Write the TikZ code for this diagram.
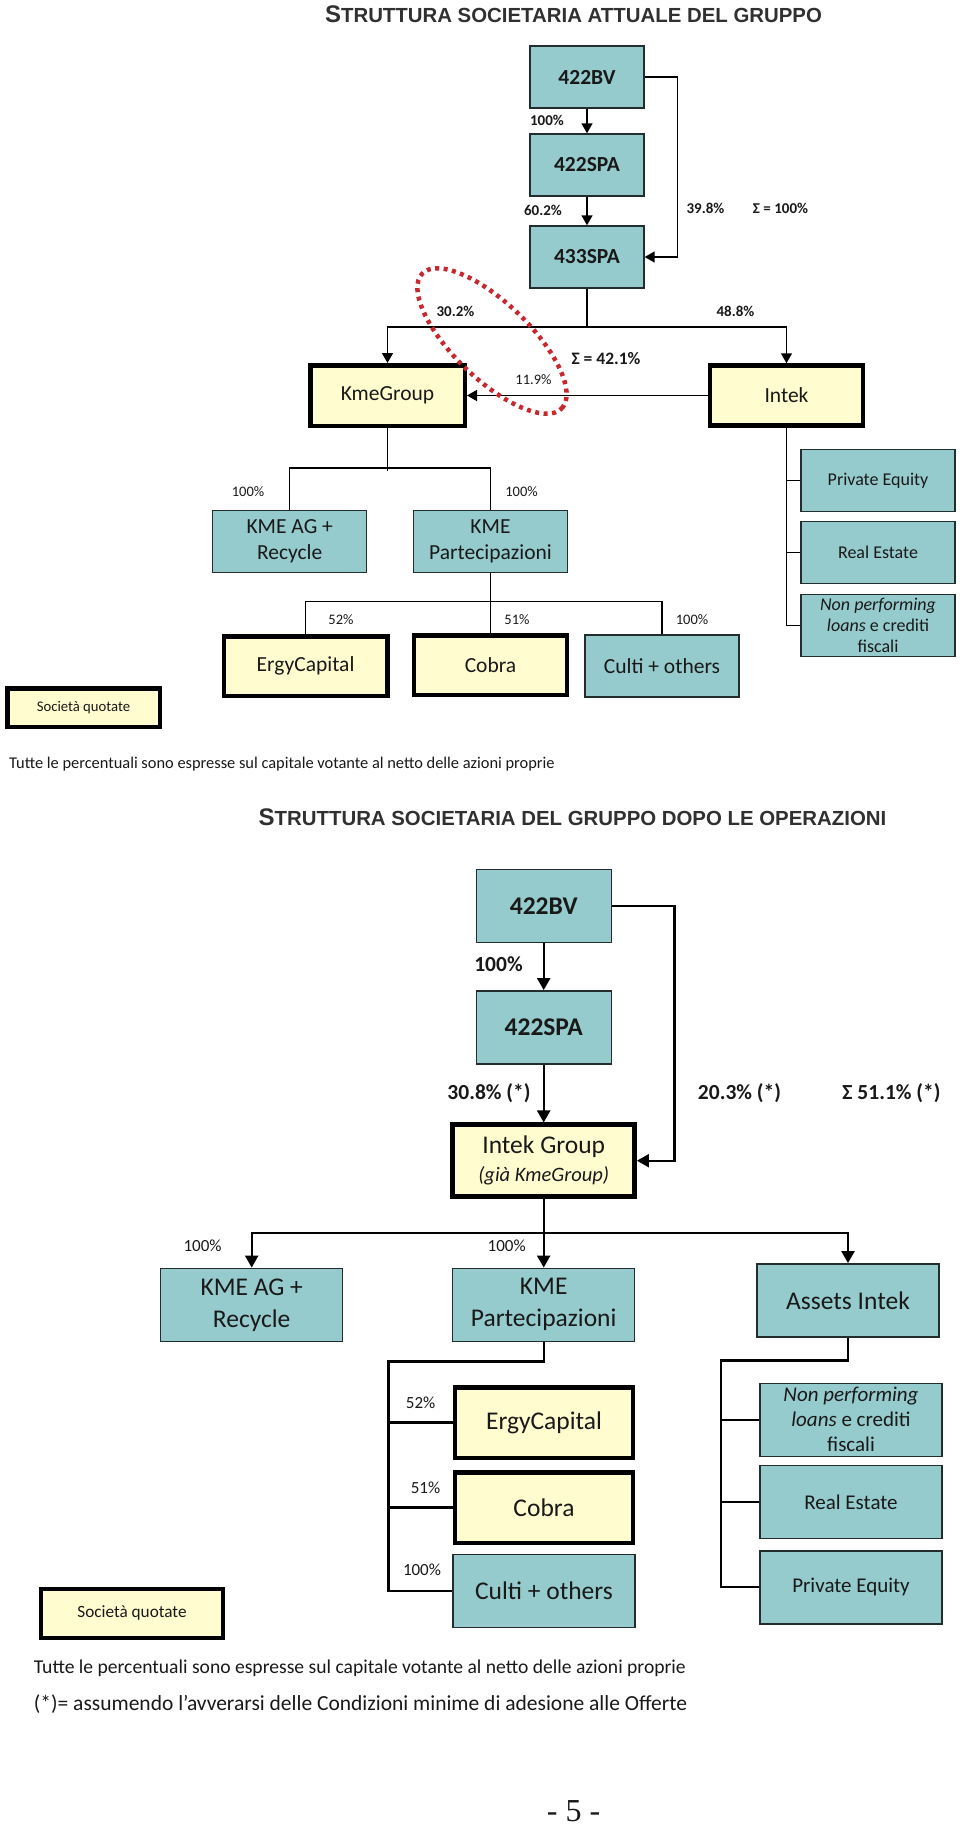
\documentclass[tikz,border=0pt]{standalone}
\usepackage{fontspec}
\setmainfont{Carlito}
\newfontfamily\headfont{Liberation Sans}
\newfontfamily\pagenumfont{Liberation Serif}
\usetikzlibrary{arrows.meta}
\definecolor{tealbox}{RGB}{150, 203, 205}
\definecolor{listedfill}{RGB}{255, 253, 208}
\definecolor{boxline}{RGB}{35, 45, 45}
\definecolor{ink}{RGB}{25, 25, 25}
\definecolor{ringred}{RGB}{200, 40, 45}

\begin{document}
\begin{tikzpicture}[x=1pt, y=-1pt,
    co/.style={draw=boxline, fill=tealbox, line width=1.4pt, align=center, inner sep=0pt, text=ink},
    listed/.style={draw=black, fill=listedfill, line width=4.5pt},
    holdA/.style={co, minimum width=114pt, minimum height=62pt, font=\bfseries\fontsize{21.5}{26}\selectfont},
    holdB/.style={co, minimum width=135pt, minimum height=73pt, font=\bfseries\fontsize{25.5}{30}\selectfont},
    unitA/.style={co, minimum width=154pt, minimum height=62pt, font=\fontsize{21.5}{26}\selectfont},
    unitB/.style={co, minimum width=182pt, minimum height=73pt, font=\fontsize{25.5}{32}\selectfont},
    assetA/.style={unitA, font=\fontsize{18}{21}\selectfont},
    assetB/.style={unitB, font=\fontsize{21}{25}\selectfont},
    shareA/.style={text=ink, inner sep=0pt, font=\fontsize{14.5}{17}\selectfont},
    shareAb/.style={text=ink, inner sep=0pt, font=\bfseries\fontsize{15}{18}\selectfont},
    shareB/.style={text=ink, inner sep=0pt, font=\fontsize{17}{20}\selectfont},
    shareBb/.style={text=ink, inner sep=0pt, font=\bfseries\fontsize{21.5}{25}\selectfont},
    wire/.style={line width=1.5pt},
    feed/.style={wire, -{Triangle[length=10pt, width=11pt]}},
    wireB/.style={line width=2.3pt},
    feedB/.style={wireB, -{Triangle[length=12pt, width=13pt]}},
    note/.style={anchor=west, text=ink, inner sep=0pt}
]
\path[fill=white, use as bounding box] (0,0) rectangle (960,1825);

% ---------------- current structure ----------------
\node[anchor=base, text=ink!90, font=\headfont\bfseries] (titleA) at (573.5,23)
    {\fontsize{24}{28}\selectfont S\fontsize{20.4}{24}\selectfont TRUTTURA SOCIETARIA ATTUALE DEL GRUPPO};

\node[holdA] (bvA) at (587,77) {422BV};
\node[holdA] (spaA) at (587,165) {422SPA};
\node[holdA] (sp433A) at (587,257) {433SPA};

\node[unitA, listed, minimum width=154.5pt, minimum height=60.5pt] (kmeA) at (387.5,395.5) {KmeGroup};
\node[unitA, listed, minimum width=153pt, minimum height=60pt] (intekA) at (786.5,395.5) {Intek};

\node[unitA] (kmeAGA) at (289.7,541.5) {KME AG +\\Recycle};
\node[unitA] (kmePartA) at (490.5,541.5) {KME\\Partecipazioni};

\node[unitA, listed, minimum width=163.5pt, minimum height=59.5pt] (ergyA) at (305.6,666) {ErgyCapital};
\node[unitA, listed, minimum width=153pt, minimum height=59.5pt] (cobraA) at (490.5,665) {Cobra};
\node[unitA] (cultiA) at (662,666) {Culti + others};

\node[assetA] (peA) at (878,480.3) {Private Equity};
\node[assetA] (reA) at (878,552.7) {Real Estate};
\node[assetA] (npA) at (878,625.5) {\textit{Non performing}\\\textit{loans} e crediti\\fiscali};

\node[co, listed, minimum width=152.5pt, minimum height=38.5pt, font=\fontsize{14.7}{17}\selectfont] (keyA) at (83.5,707.5) {Società quotate};

% percentages
\node[shareAb] at (547,120) {100\%};
\node[shareAb] at (543,210) {60.2\%};
\node[shareAb] at (705.5,208) {39.8\%};
\node[shareAb] at (780.5,208) {Σ = 100\%};
\node[shareAb] at (455.5,311) {30.2\%};
\node[shareAb] at (735.5,311) {48.8\%};
\node[shareAb, font=\bfseries\fontsize{17.5}{20}\selectfont] at (606,359) {Σ = 42.1\%};
\node[shareA] at (533.5,380) {11.9\%};
\node[shareA] at (248,492) {100\%};
\node[shareA] at (521.5,492) {100\%};
\node[shareA] at (341,620) {52\%};
\node[shareA] at (517,620) {51\%};
\node[shareA] at (692,620) {100\%};

% connectors
\draw[feed] (bvA.south) -- (spaA.north);
\draw[feed] (spaA.south) -- (sp433A.north);
\draw[feed] (bvA.east) -- ++(33,0) |- (sp433A.east);
\draw[wire] (sp433A.south) -- ++(0,38.5) coordinate (forkA);
\draw[feed] (forkA) -| (kmeA.north);
\draw[feed] (forkA) -| (intekA.north);
\draw[feed] (intekA.west) -- (kmeA.east);
\draw[wire] (kmeA.south) -- ++(0,42.5);
\draw[wire] (kmeAGA.north) -- ++(0,-42) -| (kmePartA.north);
\draw[wire] (kmePartA.south) -- (cobraA.north);
\draw[wire] (ergyA.north) -- ++(0,-32.3) -| (cultiA.north);
\draw[wire] (intekA.south) |- (npA.west);
\draw[wire] (intekA.south |- peA.west) -- (peA.west);
\draw[wire] (intekA.south |- reA.west) -- (reA.west);

\draw[ringred, line width=4.5pt, dash pattern=on 4pt off 4.5pt, rotate around={-44:(492,341)}]
    (492,341) ellipse [x radius=97pt, y radius=38pt];

\node[note, font=\fontsize{16.4}{19}\selectfont] (noteA) at (9,764)
    {Tutte le percentuali sono espresse sul capitale votante al netto delle azioni proprie};

% ---------------- structure after the operations ----------------
\node[anchor=base, text=ink!90, font=\headfont\bfseries] (titleB) at (572.5,825)
    {\fontsize{24}{28}\selectfont S\fontsize{20.4}{24}\selectfont TRUTTURA SOCIETARIA DEL GRUPPO DOPO LE OPERAZIONI};

\node[holdB] (bvB) at (543.7,905.8) {422BV};
\node[holdB] (spaB) at (543.7,1027.3) {422SPA};
\node[unitB, listed, minimum width=182pt, minimum height=72pt, font=\fontsize{25.5}{28}\selectfont] (groupB) at (543.7,1160.7)
    {Intek Group\\{\fontsize{20.5}{28}\selectfont\itshape (già KmeGroup)}};

\node[unitB] (kmeAGB) at (251.7,1304.8) {KME AG +\\Recycle};
\node[unitB] (kmePartB) at (543.7,1304.8) {KME\\Partecipazioni};
\node[unitB] (assetsB) at (848,1300.3) {Assets Intek};

\node[unitB, listed, minimum width=178pt, minimum height=70.5pt] (ergyB) at (544,1422.5) {ErgyCapital};
\node[unitB, listed, minimum width=178pt, minimum height=70.5pt] (cobraB) at (544,1507.5) {Cobra};
\node[unitB] (cultiB) at (544,1590.7) {Culti + others};

\node[assetB] (npB) at (851,1419.7) {\textit{Non performing}\\\textit{loans} e crediti\\fiscali};
\node[assetB] (reB) at (851,1502) {Real Estate};
\node[assetB] (peB) at (851,1587.3) {Private Equity};

\node[co, listed, minimum width=182pt, minimum height=49pt, font=\fontsize{17.2}{20}\selectfont] (keyB) at (132,1613.3) {Società quotate};

% percentages
\node[shareBb] at (498.5,964) {100\%};
\node[shareBb] at (489,1093) {30.8\% (*)};
\node[shareBb] at (739.5,1093) {20.3\% (*)};
\node[shareBb] at (891.5,1093) {Σ 51.1\% (*)};
\node[shareB] at (202.6,1245.7) {100\%};
\node[shareB] at (506.7,1245.7) {100\%};
\node[shareB] at (420.6,1402.3) {52\%};
\node[shareB] at (425.5,1487.3) {51\%};
\node[shareB] at (422,1570) {100\%};

% connectors
\draw[feedB] (bvB.south) -- (spaB.north);
\draw[feedB] (spaB.south) -- (groupB.north);
\draw[feedB] (bvB.east) -- ++(62.6,0) |- (groupB.east);
\draw[wireB] (groupB.south) -- ++(0,34.3) coordinate (forkB);
\draw[feedB] (forkB) -| (kmeAGB.north);
\draw[feedB] (forkB) -- (kmePartB.north);
\draw[feedB] (forkB) -| (assetsB.north);
\draw[wireB] (kmePartB.south) -- ++(0,19.5) -| ([xshift=-63.7pt]cultiB.west) -- (cultiB.west);
\draw[wireB] ([xshift=-63.7pt]ergyB.west) -- (ergyB.west);
\draw[wireB] ([xshift=-63.7pt]cobraB.west) -- (cobraB.west);
\draw[wireB] (assetsB.south) -- ++(0,23) -| ([xshift=-38.5pt]peB.west) -- (peB.west);
\draw[wireB] ([xshift=-38.5pt]npB.west) -- (npB.west);
\draw[wireB] ([xshift=-38.5pt]reB.west) -- (reB.west);

\node[note, font=\fontsize{19.6}{23}\selectfont] (noteB) at (33.7,1668)
    {Tutte le percentuali sono espresse sul capitale votante al netto delle azioni proprie};
\node[note, font=\fontsize{21.5}{25}\selectfont] (starB) at (33.7,1704)
    {(*)= assumendo l’avverarsi delle Condizioni minime di adesione alle Offerte};

\node[text=ink, font=\pagenumfont\fontsize{32}{36}\selectfont] (folio) at (573.5,1811) {- 5 -};

\end{tikzpicture}
\end{document}
